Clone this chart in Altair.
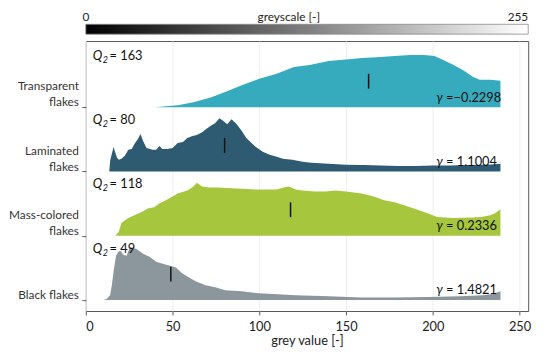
import altair as alt
import pandas as pd

FONT = "Lato"

# ---- data ----
categories = ["Black flakes", "Mass-colored flakes", "Laminated flakes", "Transparent flakes"]
label_top = ["", "Mass-colored", "Laminated", "Transparent"]
label_bottom = ["Black flakes", "flakes", "flakes", "flakes"]
colors = ["#8c969d", "#a6c63d", "#2f5b72", "#36abbe"]
medians = [49, 118, 80, 163]
gammas = ["= 1.4821", "= 0.2336", "= 1.1004", "=\u22120.2298"]

transparent_g = [40, 46, 53, 62, 72, 81, 91, 100, 110, 120, 129, 140, 150, 159, 170, 178, 187,
                 195, 201, 206, 212, 218, 223, 227, 233, 239]
transparent_h = [0, 1, 2, 5, 10, 16, 23, 29, 34, 41, 43, 47, 48.5, 50, 51, 52, 53,
                 53, 52, 48, 43, 37, 31, 28, 28, 27]

laminated_g = [13.5, 14, 15, 16, 17, 18, 19, 20.5, 22.5, 24.5, 26.5, 28, 30, 31.5, 33, 35, 37,
               38.5, 40.5, 42.5, 44, 47, 50, 53, 56, 58.5, 61.5, 64, 67, 70, 72.5, 74.5, 77,
               79.5, 81.5, 84, 87, 90, 92.5, 95.5, 98, 102, 106, 110, 113.5, 119, 125, 130,
               140, 150, 160, 170, 180, 190, 200, 210, 220, 230, 236, 239]
laminated_h = [0, 11, 18, 25, 19, 14, 12, 13, 16, 22, 23, 28, 33, 38, 31, 24, 23,
               22, 22, 26, 23, 23, 24, 29, 30, 34, 36, 37, 40, 44, 47, 49, 54,
               51, 48, 53, 48, 41, 34, 29, 25, 20, 17, 15, 13, 12, 10, 9,
               8, 7, 6.5, 6, 5.5, 5.5, 6, 6, 6.5, 7, 7.5, 8]

mass_g = [17, 19, 20.5, 22, 24.5, 28, 32, 36, 39.5, 42.5, 45, 49, 53, 58.5, 62, 64, 67, 71, 76,
          87, 98, 105, 110, 114, 117, 121, 125, 132, 138, 144, 150, 159, 166, 172, 178, 187,
          197, 202.5, 212, 223, 228, 233, 236, 239]
mass_h = [0, 4, 13, 15, 18, 21, 24, 28, 29, 33, 35, 39, 43, 46, 50, 54, 50, 49, 49,
          48, 47, 47, 47, 49, 50, 47, 46, 45, 45, 46, 45, 43, 40, 36, 34, 29,
          23, 19, 18, 18.5, 19, 21, 23, 27]

black_g = [10, 12, 14, 15, 16, 17.4, 18.8, 20, 21.6, 23.5, 25.4, 27, 29.2, 33, 36.7, 40.5, 44.3,
           48, 51.9, 55.7, 59.5, 63.3, 69, 74.6, 80.3, 89.8, 99.3, 110.6, 121, 140, 159, 178,
           197, 216, 229, 235, 239]
black_h = [0, 1, 5, 15, 29, 45, 49, 50, 46, 45, 54, 53, 52, 47, 44, 39, 37,
           35, 33, 27, 23, 19, 15, 13, 10, 9, 7, 6, 5, 4, 2.5, 2.5,
           3, 4, 5, 6.5, 9]

series = [(black_g, black_h), (mass_g, mass_h), (laminated_g, laminated_h), (transparent_g, transparent_h)]

NORM = 65.3  # frequency units per row spacing

frames = []
for i, (gs, hs) in enumerate(series):
    frames.append(pd.DataFrame({"g": gs, "h": hs, "row": i, "cat": categories[i]}))
hist = pd.concat(frames, ignore_index=True)

rows_df = pd.DataFrame({"row": [0, 1, 2, 3], "cat": categories, "top": label_top,
                        "bottom": label_bottom, "q2": medians, "gamma": gammas})

xscale = alt.Scale(domain=[0, 255], nice=False, zero=False)
yscale = alt.Scale(domain=[-0.17, 4.03], nice=False, zero=False)

X = alt.X("g:Q", scale=xscale,
          axis=alt.Axis(values=[0, 50, 100, 150, 200, 250], title="grey value   [-]",
                        grid=True, gridColor="#eeeeee", domain=False, tickSize=4,
                        tickColor="#555", labelFont=FONT, labelFontSize=13, labelColor="#222",
                        titleFont=FONT, titleFontSize=13, titleFontWeight="normal",
                        titleColor="#222", titlePadding=1, labelPadding=6))
Y = alt.Y("y:Q", scale=yscale, stack=None,
          axis=alt.Axis(values=[0, 1, 2, 3], labels=False, title=None, grid=False,
                        domain=False, tickSize=4, tickColor="#555"))

areas = alt.Chart(hist).transform_calculate(
    y=f"datum.row + datum.h / {NORM}", base="datum.row"
).mark_area(interpolate="linear").encode(
    x=X, y=Y, y2="base:Q",
    color=alt.Color("cat:N", scale=alt.Scale(domain=categories, range=colors), legend=None),
    detail="cat:N",
)

rules = alt.Chart(rows_df).transform_calculate(
    g="datum.q2", y="datum.row + 0.29", y2="datum.row + 0.52"
).mark_rule(color="#111", strokeWidth=1.5).encode(x="g:Q", y="y:Q", y2="y2:Q")

qbase = alt.Chart(rows_df).transform_calculate(
    g="4", y="datum.row + 0.80", txt="'= ' + datum.q2")
q_letter = qbase.mark_text(text="Q", font=FONT, fontSize=13, fontStyle="italic",
                           align="left", baseline="middle", color="#111").encode(x="g:Q", y="y:Q")
q_sub = qbase.mark_text(text="2", font=FONT, fontSize=9, fontStyle="italic",
                        align="left", baseline="middle", dx=10, dy=4, color="#111").encode(x="g:Q", y="y:Q")
q_val = qbase.mark_text(font=FONT, fontSize=13, align="left", baseline="middle", dx=17,
                        color="#111").encode(x="g:Q", y="y:Q", text="txt:N")

gbase = alt.Chart(rows_df).transform_calculate(g="202", y="datum.row + 0.15")
g_letter = gbase.mark_text(text="\u03b3", font=FONT, fontSize=13, fontStyle="italic",
                           align="left", baseline="middle", color="#111").encode(x="g:Q", y="y:Q")
g_val = gbase.mark_text(font=FONT, fontSize=13, align="left", baseline="middle", dx=10,
                        color="#111").encode(x="g:Q", y="y:Q", text="gamma:N")

lab_base = alt.Chart(rows_df).transform_calculate(y="datum.row")
lab_bottom = lab_base.mark_text(
    font=FONT, fontSize=12, align="right", baseline="middle", dy=-5, color="#333"
).encode(x=alt.value(-7), y="y:Q", text="bottom:N")
lab_top = lab_base.mark_text(
    font=FONT, fontSize=12, align="right", baseline="middle", dy=-21, color="#333"
).encode(x=alt.value(-7), y="y:Q", text="top:N")

bar_df = pd.DataFrame({"a": [0], "b": [255]})
bar = alt.Chart(bar_df).mark_rect(
    fill=alt.Gradient(gradient="linear",
                      stops=[alt.GradientStop(color="#000000", offset=0),
                             alt.GradientStop(color="#ffffff", offset=1)],
                      x1=0, x2=1, y1=0, y2=0),
    stroke="#888", strokeWidth=0.8
).encode(x=alt.X("a:Q", scale=xscale), x2="b:Q", y=alt.value(-17), y2=alt.value(-7))

bar_txt_df = pd.DataFrame({"g": [0, 117, 255], "t": ["0", "greyscale   [-]", "255"],
                           "al": ["l", "c", "r"]})
t0 = alt.Chart(bar_txt_df).transform_filter("datum.al == 'l'").mark_text(
    font=FONT, fontSize=12, align="center", baseline="middle", color="#222"
).encode(x="g:Q", y=alt.value(-24), text="t:N")
t1 = alt.Chart(bar_txt_df).transform_filter("datum.al == 'c'").mark_text(
    font=FONT, fontSize=12, align="center", baseline="middle", color="#222"
).encode(x="g:Q", y=alt.value(-24), text="t:N")
t2 = alt.Chart(bar_txt_df).transform_filter("datum.al == 'r'").mark_text(
    font=FONT, fontSize=12, align="right", baseline="middle", color="#222"
).encode(x="g:Q", y=alt.value(-24), text="t:N")

chart = alt.layer(
    areas, rules, q_letter, q_sub, q_val, g_letter, g_val, lab_bottom, lab_top, bar, t0, t1, t2
).properties(
    width=449, height=274,
    autosize=alt.AutoSizeParams(type="none"),
    padding={"left": 79, "top": 31, "right": 14, "bottom": 34},
).configure_view(stroke="#555", strokeWidth=1)

chart.save("out.html", embed_options={"renderer": "svg", "actions": False})
